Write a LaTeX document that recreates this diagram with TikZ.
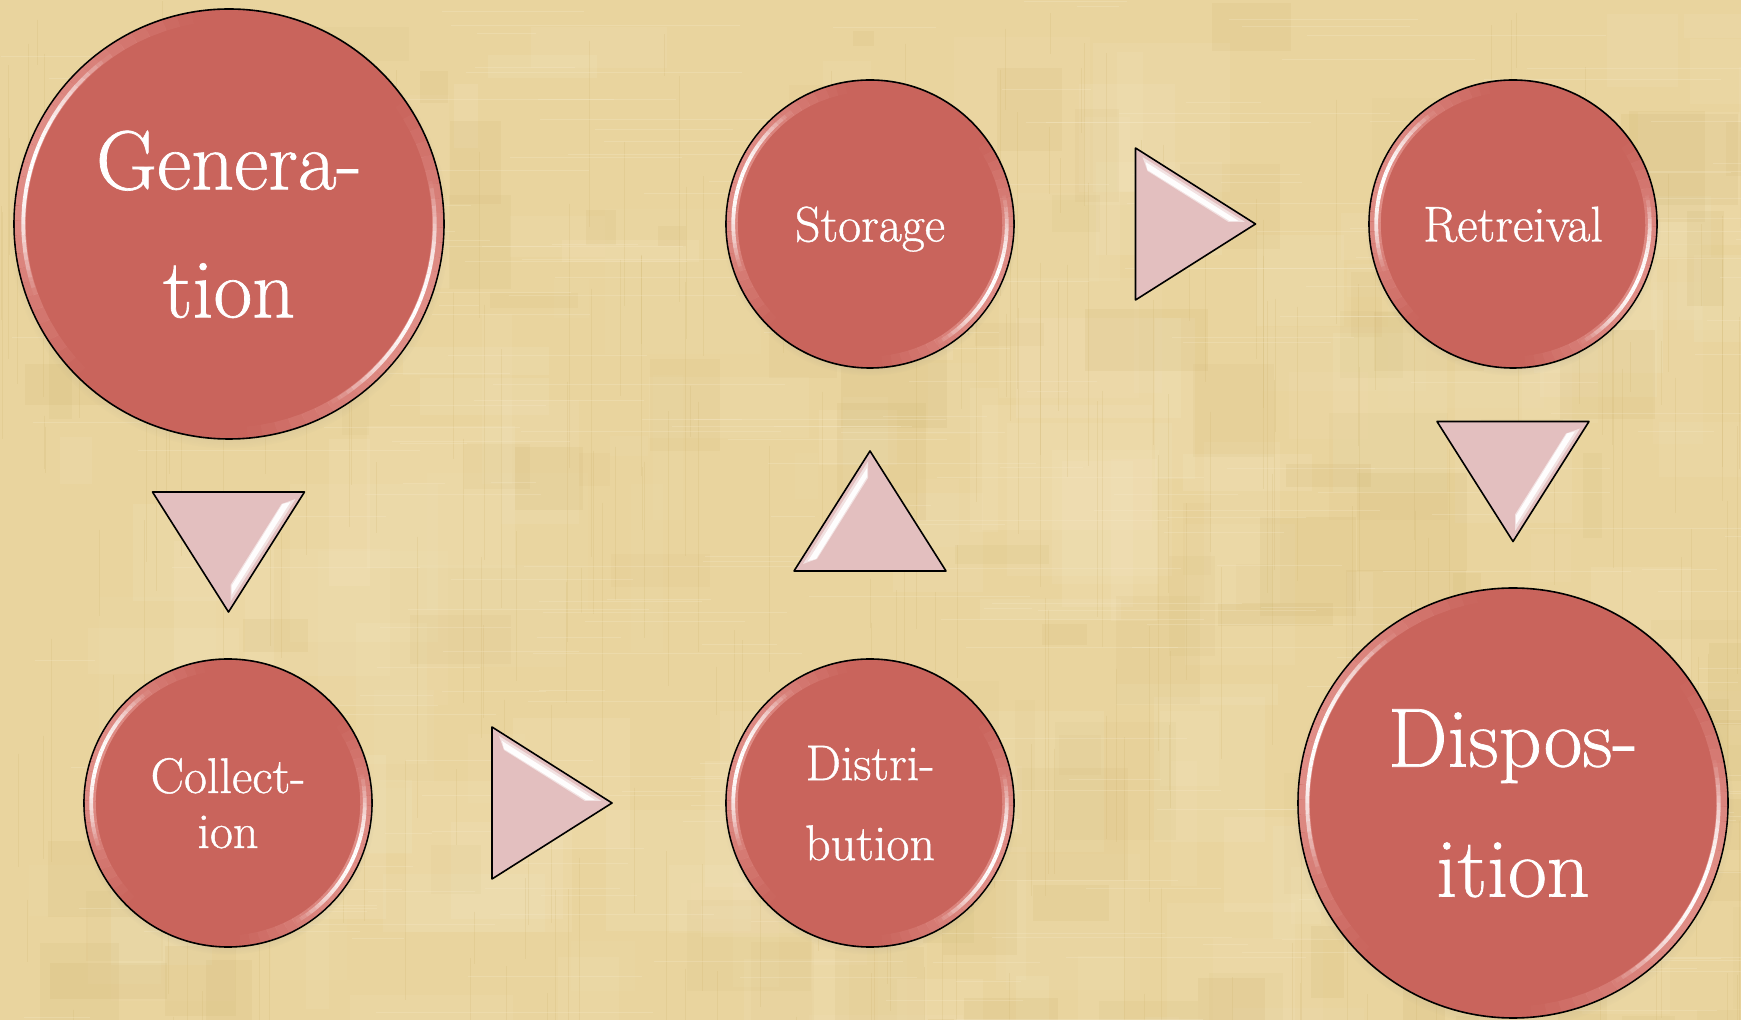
\documentclass[tikz,border=0pt]{standalone}
\usepackage{fontspec}
\setmainfont{Latin Modern Roman}[FakeBold=0.8]
\usetikzlibrary{calc,shadows}

\definecolor{paper}{HTML}{E9D49E}
\definecolor{paperlight}{HTML}{F5E8C6}
\definecolor{paperdark}{HTML}{CDB26C}
\definecolor{discfill}{HTML}{C9645C}
\definecolor{discrim}{HTML}{F0AAA4}
\definecolor{wedgefill}{HTML}{E3BFBF}

\tikzset{
  disc/.style={circle, draw=black, line width=0.8pt, fill=discfill, text=white,
    inner sep=0pt, align=center, text depth=0pt,
    circular drop shadow={shadow xshift=0pt, shadow yshift=-2pt, shadow scale=1.025, opacity=.3}},
  smalldisc/.style={disc, minimum size=144pt},
  bigdisc/.style={disc, minimum size=215pt},
  wedgeline/.style={draw=black, line width=0.8pt, fill=wedgefill, line join=round},
}

% soft arc of light along the inside of a disc:
% #1 node, #2 from angle, #3 to angle, #4 inset, #5 width, #6 colour, #7 peak opacity
\newcommand\glossarc[7]{%
  \foreach \t in {0,...,29} {
    \pgfmathtruncatemacro\pa{mod(round(#2+(#3-#2)*\t/30)+720,360)}
    \pgfmathtruncatemacro\pb{mod(round(#2+(#3-#2)*(\t+1)/30)+720,360)}
    \pgfmathsetmacro\op{#7*sin((\t+0.5)/30*180)}
    \draw[#6, line width=#5, opacity=\op, line cap=butt]
      ($(#1.\pa)!#4!(#1.center)$) -- ($(#1.\pb)!#4!(#1.center)$);
  }}

\newcommand\discgloss[2]{% #1 node, #2 inset of the bright line
  \glossarc{#1}{100}{225}{3.5pt}{5.5pt}{discrim}{0.6}
  \glossarc{#1}{-85}{35}{3.5pt}{5.5pt}{discrim}{0.6}
  \glossarc{#1}{125}{200}{#2}{1.9pt}{white}{1}
  \glossarc{#1}{-60}{12}{#2}{1.9pt}{white}{1}
}

% glossy triangle pointing right in local units, placed at #1 and turned by #2
\newcommand\wedgeat[2]{%
  \begin{scope}[shift={#1}, rotate=#2]
    \draw[wedgeline] (-60,-76) -- (60,0) -- (-60,76) -- cycle;
    \fill[white, opacity=.55] (-53,-67) -- (49.5,-2) -- (33,-2) -- (-48,-53) -- cycle;
    \fill[white, opacity=.95] (-50,-62) -- (43,-3) -- (34,-3) -- (-48,-54) -- cycle;
  \end{scope}}

\begin{document}
\begin{tikzpicture}[x=0.5pt, y=-0.5pt]
  % paper background
  \fill[paper] (0,0) rectangle (1741,1020);
  \useasboundingbox (0,0) rectangle (1741,1020);
  \begin{scope}
    \clip (0,0) rectangle (1741,1020);
    \pgfmathsetseed{17}
    \foreach \i in {1,...,170} {
      \pgfmathsetmacro\px{rnd*1741}
      \pgfmathsetmacro\py{rnd*1020}
      \pgfmathsetmacro\pw{20+rnd*150}
      \pgfmathsetmacro\ph{20+rnd*150}
      \pgfmathsetmacro\po{0.06+rnd*0.12}
      \fill[paperlight, opacity=\po] (\px,\py) rectangle ++(\pw,\ph);
    }
    \foreach \i in {1,...,110} {
      \pgfmathsetmacro\px{rnd*1741}
      \pgfmathsetmacro\py{rnd*1020}
      \pgfmathsetmacro\pw{15+rnd*110}
      \pgfmathsetmacro\ph{15+rnd*110}
      \pgfmathsetmacro\po{0.05+rnd*0.10}
      \fill[paperdark, opacity=\po] (\px,\py) rectangle ++(\pw,\ph);
    }
    \foreach \i in {1,...,260} {
      \pgfmathsetmacro\px{rnd*1741}
      \pgfmathsetmacro\py{rnd*1020}
      \pgfmathsetmacro\pl{40+rnd*260}
      \draw[paperdark, opacity=.2, line width=0.5pt] (\px,\py) -- ++(0,\pl);
    }
    \foreach \i in {1,...,260} {
      \pgfmathsetmacro\px{rnd*1741}
      \pgfmathsetmacro\py{rnd*1020}
      \pgfmathsetmacro\pl{40+rnd*260}
      \draw[paperlight, opacity=.3, line width=0.5pt] (\px,\py) -- ++(\pl,0);
    }
  \end{scope}

  % stages of the cycle
  \node[bigdisc, font=\fontsize{42}{64}\selectfont] (gen) at (229,224) {Genera-\\tion};
  \node[smalldisc, font=\fontsize{25}{27.5}\selectfont] (col) at (228,803) {Collect-\\ion};
  \node[smalldisc, font=\fontsize{25}{40}\selectfont] (dist) at (870,803) {Distri-\\bution};
  \node[smalldisc, font=\fontsize{25}{30}\selectfont] (stor) at (870,224) {Storage};
  \node[smalldisc, font=\fontsize{25}{30}\selectfont] (retr) at (1513,224) {Retreival};
  \node[bigdisc, font=\fontsize{42}{65}\selectfont] (disp) at (1513,803) {Dispos-\\ition};

  \discgloss{gen}{5pt}
  \discgloss{col}{4pt}
  \discgloss{dist}{4pt}
  \discgloss{stor}{4pt}
  \discgloss{retr}{4pt}
  \discgloss{disp}{5pt}

  % arrows between the stages
  \wedgeat{($(gen.south)!.5!(col.north)+(0,3)$)}{-90}
  \wedgeat{($(col.east)!.5!(dist.west)+(3,0)$)}{0}
  \wedgeat{($(dist.north)!.5!(stor.south)+(0,-2.5)$)}{90}
  \wedgeat{($(stor.east)!.5!(retr.west)+(4,0)$)}{0}
  \wedgeat{($(retr.south)!.5!(disp.north)+(0,3.5)$)}{-90}
\end{tikzpicture}
\end{document}
